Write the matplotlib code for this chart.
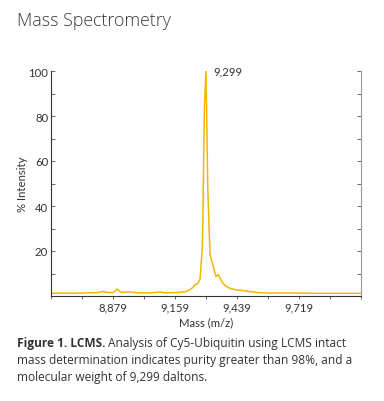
import matplotlib
matplotlib.use("Agg")
import matplotlib.pyplot as plt
from matplotlib.ticker import MultipleLocator, FixedLocator

# spectrum (mass, % intensity)
mass = [8599, 8650, 8700, 8760, 8810, 8834, 8850, 8880, 8898, 8915, 8935, 8956, 8975,
        9000, 9050, 9096, 9110, 9150, 9182, 9210, 9227, 9240, 9249, 9262, 9272, 9283,
        9292, 9299, 9307, 9317, 9332, 9344, 9355, 9370, 9385, 9407, 9438, 9460, 9490,
        9535, 9600, 9700, 9800, 9900, 9999]
intensity = [1.2, 1.3, 1.2, 1.4, 1.5, 2.0, 1.6, 1.5, 3.1, 1.6, 1.7, 1.9, 1.5,
             1.4, 1.4, 1.8, 1.4, 1.5, 1.6, 2.0, 2.9, 3.8, 5.0, 5.5, 7.5, 22,
             85, 100, 48, 18.7, 13, 8.6, 9.5, 6.4, 4.6, 3.4, 2.7, 2.5, 2.1,
             1.5, 1.3, 1.3, 1.2, 1.2, 1.2]
x_ticks = [8879, 9159, 9439, 9719]
x_tick_labels = ["8,879", "9,159", "9,439", "9,719"]
peak_mass = 9299

txt = "#333333"
plt.rcParams['font.family'] = ['Lato', 'DejaVu Sans']

fig = plt.figure(figsize=(3.84, 4.02), dpi=100)
ax = fig.add_axes([51/384, 1 - 297/402, 310/384, 225/402])

ax.plot(mass, intensity, color="#F2B705", lw=1.1)
ax.text(peak_mass + 35, 100, "9,299", fontsize=8.2, color=txt, va="center", ha="left")

ax.set_xlim(8599, 9999)
ax.set_ylim(0, 100)
ax.xaxis.set_major_locator(FixedLocator(x_ticks))
ax.set_xticklabels(x_tick_labels)
ax.xaxis.set_minor_locator(MultipleLocator(140, offset=8599))
ax.yaxis.set_major_locator(FixedLocator([20, 40, 60, 80, 100]))
ax.yaxis.set_minor_locator(MultipleLocator(10))

ax.tick_params(axis="both", which="both", direction="in", colors="#555555",
               labelcolor=txt, labelsize=8.2, length=3, width=0.6, pad=2)
ax.tick_params(axis="y", right=True, which="both")
ax.tick_params(axis="x", which="both", direction="out", length=2.5, pad=1.5)

ax.spines["top"].set_visible(False)
ax.spines["left"].set_color("#333333")
ax.spines["bottom"].set_color("#333333")
ax.spines["right"].set_color("#999999")
for s in ax.spines.values():
    s.set_linewidth(0.8)

ax.set_ylabel("% Intensity", fontsize=8.2, color=txt, labelpad=0.5)
ax.set_xlabel("Mass (m/z)", fontsize=8.2, color=txt, labelpad=3)

fig.text(17/384, 1 - 21/402, "Mass Spectrometry", fontsize=12.8, color="#3a3a3a",
         family=["Open Sans", "DejaVu Sans"], fontweight="light", va="center")

cap_font = ["Open Sans", "DejaVu Sans"]
cap_size = 8.6
bold = fig.text(17/384, 1 - 344/402, "Figure 1. LCMS.", fontsize=cap_size, fontweight="bold",
                color=txt, family=cap_font, va="center")
fig.canvas.draw()
bb = bold.get_window_extent(fig.canvas.get_renderer())
fig.text((bb.x1 + 3) / 384, 1 - 344/402, "Analysis of Cy5-Ubiquitin using LCMS intact",
         fontsize=cap_size, color=txt, family=cap_font, va="center")
fig.text(17/384, 1 - 361/402, "mass determination indicates purity greater than 98%, and a",
         fontsize=cap_size, color=txt, family=cap_font, va="center")
fig.text(17/384, 1 - 378/402, "molecular weight of 9,299 daltons.",
         fontsize=cap_size, color=txt, family=cap_font, va="center")

fig.savefig("out.png", dpi=100)
